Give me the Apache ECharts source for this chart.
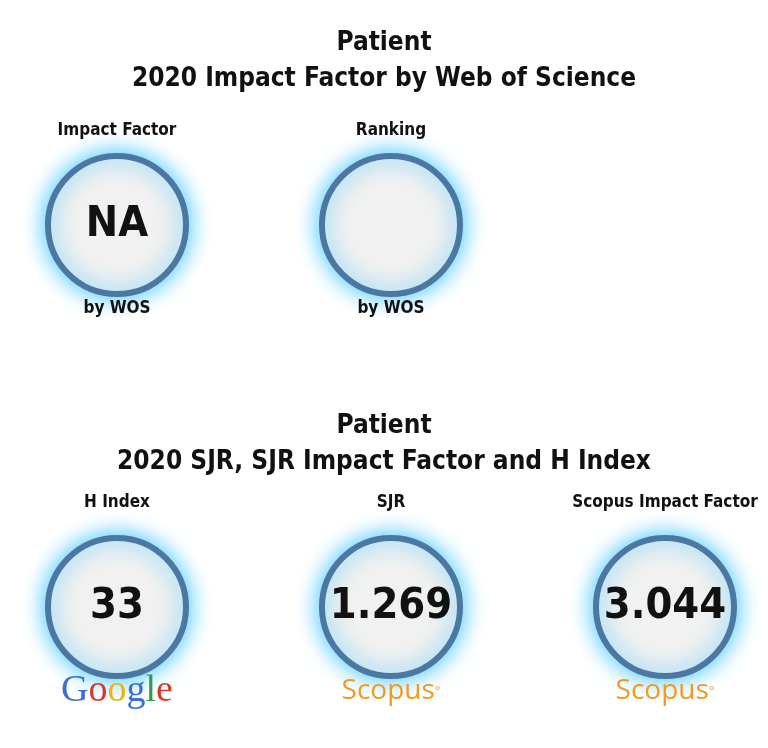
<!doctype html>
<html>
<head>
<meta charset="utf-8">
<style>html,body{margin:0;padding:0;background:#fff}#main{width:768px;height:748px}</style>
</head>
<body>
<div id="main"></div>
<script src="https://cdn.jsdelivr.net/npm/echarts@6/dist/echarts.min.js"></script>
<script>
var metricNames = ['Impact Factor', 'Ranking', 'H Index', 'SJR', 'Scopus Impact Factor'];
var metricValues = ['NA', '', '33', '1.269', '3.044'];
var metricCols = [0, 1, 0, 1, 2];
var metricRows = [0, 0, 1, 1, 1];
var sources = ['wos', 'wos', 'google', 'scopus', 'scopus'];

var FONT = "'DejaVu Sans Condensed', 'Liberation Sans Narrow', sans-serif";
var chart = echarts.init(document.getElementById('main'));

var data = metricNames.map(function (n, i) {
    return { name: n, value: [metricCols[i], metricRows[i]], text: metricValues[i], src: sources[i] };
});

var titleStyle = { fontFamily: FONT, fontSize: 26, fontWeight: 'bold', color: '#111', lineHeight: 36, align: 'center' };

chart.setOption({
    animation: false,
    title: [
        { text: 'Patient\n2020 Impact Factor by Web of Science', left: 'center', top: 20, textStyle: titleStyle },
        { text: 'Patient\n2020 SJR, SJR Impact Factor and H Index', left: 'center', top: 403, textStyle: titleStyle }
    ],
    grid: { left: 0, right: 0, top: 0, bottom: 0 },
    xAxis: { type: 'value', min: -0.427, max: 2.376, show: false },
    yAxis: { type: 'value', min: -0.589, max: 1.369, inverse: true, show: false },
    series: [{
        type: 'scatter',
        symbolSize: 138,
        data: data,
        itemStyle: { color: '#f1f1f1', opacity: 1, borderColor: '#4b78a2', borderWidth: 6, shadowBlur: 22, shadowColor: 'rgba(40,190,255,0.9)' },
        label: {
            show: true, position: 'inside',
            formatter: function (p) { return p.data.text; },
            fontFamily: FONT, fontSize: 43, fontWeight: 'bold', color: '#111'
        },
        emphasis: { disabled: true }
    }, {
        // captions above and sources below
        type: 'scatter',
        symbolSize: 1,
        itemStyle: { color: 'transparent', opacity: 1 },
        data: data,
        emphasis: { disabled: true },
        label: {
            show: true, position: 'inside',
            formatter: function (p) {
                var bottom;
                if (p.data.src === 'wos') bottom = '{wos|by WOS}';
                else if (p.data.src === 'google') bottom = '{gb|G}{gr|o}{gy|o}{gb|g}{gg|l}{gr|e}';
                else bottom = '{sc|Scopus}{deg|°}';
                return '{cap|' + p.name + '}\n{gap|}\n' + bottom;
            },
            rich: {
                cap: { fontFamily: FONT, fontSize: 17, fontWeight: 'bold', color: '#111', height: 20 },
                gap: { height: 148 },
                wos: { fontFamily: FONT, fontSize: 17, fontWeight: 'bold', color: '#111', height: 40, verticalAlign: 'top' },
                gb: { fontFamily: 'Liberation Serif', fontSize: 38, color: '#3b6fd8', height: 60 },
                gr: { fontFamily: 'Liberation Serif', fontSize: 38, color: '#d8392b', height: 60 },
                gy: { fontFamily: 'Liberation Serif', fontSize: 38, color: '#e9b319', height: 60 },
                gg: { fontFamily: 'Liberation Serif', fontSize: 38, color: '#2f9b43', height: 60 },
                sc: { fontFamily: 'Open Sans', fontSize: 28, color: '#f39a1e', height: 60 },
                deg: { fontFamily: 'Open Sans', fontSize: 13, color: '#f39a1e', verticalAlign: 'top', height: 60 }
            }
        }
    }]
});
</script>
</body>
</html>
